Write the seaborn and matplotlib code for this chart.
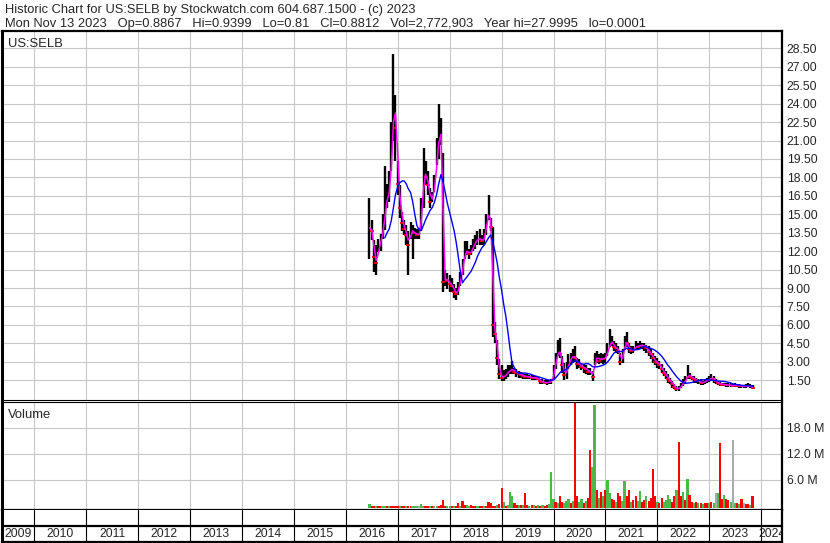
import numpy as np
import pandas as pd
import matplotlib
matplotlib.use("Agg")
import matplotlib.pyplot as plt
import seaborn as sns

# semi-monthly bars, Jun 2016 .. Nov 2023
close = [
    13.9, 13.6, 11.5, 11.0, 12.5, 12.8, 13.8, 15.5, 16.5, 17.0, 20.5, 24.5, 22.0,
    17.5, 15.5, 14.3, 13.8, 13.3, 12.5, 13.8, 13.5, 13.5, 13.3, 13.4, 15.5,
    18.5, 18.0, 17.4, 16.0, 16.5, 17.5, 20.0, 21.5, 21.5, 9.5, 9.8, 9.6,
    9.3, 9.2, 8.7, 8.5, 9.0, 9.8, 10.8, 12.0, 12.0, 11.8, 12.0, 12.5,
    12.8, 13.0, 13.0, 12.8, 13.2, 14.5, 15.3, 14.0, 6.0, 5.3, 3.3, 2.0,
    1.7, 1.8, 2.0, 2.2, 2.3, 2.4, 2.2, 2.1, 2.0, 1.95, 1.85, 1.8,
    1.8, 1.75, 1.7, 1.7, 1.65, 1.6, 1.4, 1.35, 1.3, 1.3, 1.35, 1.4,
    2.2, 3.2, 4.0, 3.6, 2.7, 1.9, 2.3, 3.0, 3.3, 3.5, 3.3, 2.8,
    2.8, 2.6, 2.5, 2.4, 2.2, 2.2, 1.8, 3.2, 3.4, 3.1, 3.3, 3.2,
    3.4, 4.0, 4.6, 4.6, 4.2, 4.1, 3.9, 3.0, 3.5, 4.6, 4.5, 4.0,
    3.9, 4.0, 4.3, 4.2, 4.4, 4.3, 4.3, 4.1, 3.8, 3.6, 3.3, 3.0,
    2.9, 2.7, 2.4, 2.1, 1.9, 1.6, 1.4, 1.2, 0.95, 0.8, 0.8, 1.1,
    1.3, 1.5, 2.0, 1.8, 1.7, 1.6, 1.5, 1.4, 1.3, 1.3, 1.4, 1.5,
    1.6, 1.7, 1.6, 1.4, 1.25, 1.2, 1.15, 1.15, 1.1, 1.1, 1.1, 1.05,
    1.1, 1.05, 1.05, 1.0, 1.0, 1.0, 1.05, 1.0, 0.88,
]
high = [
    16.3, 14.5, 12.9, 12.5, 13.0, 13.4, 15.0, 18.9, 17.5, 18.5, 22.5, 28.0, 24.7,
    19.3, 17.4, 15.2, 14.5, 14.1, 13.6, 14.4, 14.1, 13.9, 13.8, 13.9, 16.3,
    20.4, 19.3, 18.5, 17.1, 16.8, 18.2, 21.2, 24.0, 22.8, 20.0, 10.5, 10.2,
    10.1, 9.8, 9.3, 9.0, 9.5, 10.3, 11.4, 12.8, 12.8, 12.2, 12.5, 13.0,
    13.3, 13.6, 13.8, 13.3, 13.8, 15.0, 16.6, 14.7, 14.0, 6.2, 4.8, 3.2,
    2.7, 2.3, 2.4, 2.7, 2.7, 3.1, 2.5, 2.4, 2.25, 2.2, 2.1, 2.0,
    2.0, 1.9, 1.9, 1.85, 1.85, 1.8, 1.6, 1.6, 1.5, 1.5, 1.5, 1.6,
    2.7, 3.7, 4.8, 4.9, 3.5, 2.9, 3.0, 3.6, 3.7, 4.0, 4.3, 3.3,
    3.2, 2.9, 2.8, 2.7, 2.5, 2.5, 2.25, 3.7, 3.9, 3.6, 3.7, 3.6,
    3.7, 4.5, 5.7, 5.1, 4.7, 4.5, 4.3, 3.7, 4.0, 5.1, 5.4, 4.5,
    4.3, 4.3, 4.7, 4.5, 4.7, 4.5, 4.5, 4.4, 4.3, 4.0, 3.7, 3.5,
    3.3, 3.1, 2.8, 2.5, 2.25, 2.0, 1.7, 1.45, 1.2, 1.0, 1.0, 1.3,
    1.6, 1.85, 2.7, 2.1, 1.85, 1.85, 1.7, 1.6, 1.6, 1.45, 1.6, 1.7,
    1.85, 2.0, 1.85, 1.6, 1.45, 1.35, 1.3, 1.3, 1.25, 1.3, 1.25, 1.2,
    1.25, 1.2, 1.2, 1.15, 1.15, 1.2, 1.3, 1.2, 1.1,
]
low = [
    11.4, 12.9, 10.3, 10.1, 11.9, 12.0, 13.0, 13.7, 15.5, 16.0, 18.5, 21.0, 19.3,
    16.6, 14.7, 13.6, 13.3, 12.5, 10.1, 13.0, 11.4, 13.0, 13.0, 13.0, 13.6,
    15.5, 17.4, 16.6, 15.5, 16.0, 16.8, 19.0, 19.5, 20.6, 8.7, 9.2, 8.9,
    8.7, 8.7, 8.2, 8.0, 8.4, 9.2, 10.1, 11.4, 11.7, 11.4, 11.7, 12.0,
    12.2, 12.5, 12.5, 12.5, 12.5, 13.3, 14.5, 13.6, 5.0, 4.5, 2.7, 1.6,
    1.4, 1.4, 1.6, 1.8, 2.0, 2.0, 2.0, 1.8, 1.7, 1.7, 1.6, 1.6,
    1.6, 1.6, 1.5, 1.55, 1.5, 1.5, 1.2, 1.2, 1.2, 1.15, 1.2, 1.2,
    1.6, 2.4, 3.5, 3.3, 2.1, 1.5, 1.6, 2.4, 2.7, 2.9, 3.0, 2.4,
    2.5, 2.3, 2.1, 2.0, 1.9, 1.9, 1.4, 2.7, 2.9, 2.8, 2.9, 2.8,
    2.9, 3.5, 4.2, 4.3, 3.9, 3.7, 3.6, 2.7, 2.9, 4.0, 4.2, 3.7,
    3.6, 3.7, 4.0, 4.0, 4.0, 4.0, 3.9, 3.7, 3.5, 3.2, 2.9, 2.7,
    2.5, 2.4, 2.1, 1.85, 1.6, 1.3, 1.2, 0.9, 0.75, 0.62, 0.62, 0.9,
    1.0, 1.2, 1.6, 1.6, 1.5, 1.3, 1.25, 1.2, 1.1, 1.1, 1.2, 1.3,
    1.35, 1.4, 1.3, 1.2, 1.1, 1.0, 1.0, 1.0, 0.95, 0.95, 0.95, 0.95,
    0.95, 0.95, 0.9, 0.9, 0.9, 0.9, 0.95, 0.85, 0.75,
]
# biggest daily volume in each half month, millions
volume = [
    0.5, 0.1, 0.0, 0.1, 0.0, 0.0, 0.1, 0.1, 0.0, 0.1, 0.1, 0.1, 0.0,
    0.1, 0.0, 0.1, 0.0, 0.1, 0.0, 0.1, 0.0, 0.0, 0.1, 0.1, 0.4,
    0.1, 0.0, 0.0, 0.0, 0.0, 0.1, 0.1, 0.1, 0.2, 1.4, 0.1, 0.1,
    0.1, 0.0, 0.1, 0.0, 0.7, 0.1, 1.2, 0.2, 0.2, 0.1, 0.2, 0.1,
    0.1, 0.0, 0.1, 0.0, 0.1, 0.1, 1.0, 0.7, 0.1, 0.0, 0.2, 0.5,
    4.2, 1.0, 0.1, 0.3, 3.3, 2.4, 0.6, 0.3, 0.2, 0.2, 0.2, 3.1,
    0.2, 0.1, 0.2, 0.3, 0.1, 0.2, 0.1, 0.3, 0.1, 0.3, 0.4, 7.9,
    1.6, 1.0, 0.6, 2.2, 1.0, 0.7, 1.2, 1.6, 0.6, 1.2, 25.0, 2.4,
    1.0, 1.6, 0.8, 1.2, 1.8, 12.9, 9.1, 23.3, 3.7, 1.8, 3.3, 2.2,
    3.7, 6.0, 3.1, 1.5, 1.4, 1.0, 3.0, 2.4, 1.2, 5.8, 2.2, 3.7,
    1.0, 1.4, 2.2, 1.2, 3.5, 1.0, 1.4, 2.2, 1.2, 1.8, 8.5, 2.2,
    1.0, 0.8, 1.8, 1.0, 1.4, 2.5, 1.6, 1.0, 2.2, 3.8, 14.8, 2.2,
    3.3, 1.4, 6.2, 2.5, 1.0, 0.8, 1.0, 0.6, 0.8, 0.5, 0.6, 0.6,
    0.8, 1.0, 0.7, 2.9, 3.0, 14.6, 1.5, 2.5, 1.6, 1.4, 1.0, 15.2,
    0.6, 0.8, 0.5, 1.6, 0.6, 0.4, 0.4, 0.2, 2.3,
]
# u = up day (green), d = down day (red), n = unchanged (grey)
vol_dir = list(
    "uddudduududdd"
    "duddudduuunuudduduuddddu"
    "udud" "dudd" "uudd" "dudd" "uddd" "ddud"
    "dudu" "uudd" "udud" "dudu" "dudu" "dduu"
    "udud" "duuu" "dudd" "uudu" "dduu" "dudu"
    "duud" "dudd" "uudd" "uddu" "uddu" "dddd"
    "uddu" "uuud" "dudd" "udud" "dudu" "dudd"
    "udun" "uddu" "ddun" "udud" "nddu" "d"
)
years = list(range(2009, 2025))
price_ticks = [1.5 * k for k in range(1, 20)]
vol_ticks = [6, 12, 18]

dates = pd.date_range("2016-06-15", periods=len(close), freq="SMS")
df = pd.DataFrame({"date": dates, "close": close, "high": high, "low": low,
                   "volume": volume, "dir": vol_dir})
df["t"] = df["date"].dt.year + (df["date"].dt.dayofyear - 1) / 365.25
df["ma_short"] = df["close"].rolling(2, min_periods=1).mean()
df["ma_long"] = df["close"].rolling(10, min_periods=8).mean()

sns.set_style("white")
plt.rcParams["font.family"] = ["Liberation Sans", "DejaVu Sans"]

W, H = 830, 543
fig = plt.figure(figsize=(W / 100, H / 100), dpi=100)
fig.patch.set_facecolor("white")


def box(x0, y0, x1, y1):
    return [x0 / W, 1 - y1 / H, (x1 - x0) / W, (y1 - y0) / H]


ax = fig.add_axes(box(2, 31, 782, 400))
axv = fig.add_axes(box(2, 402, 782, 509.5))
axs = fig.add_axes(box(2, 509.5, 782, 542))
xlim = (2009.378, 2024.399)
grid = "#c8c8c8"

for a in (ax, axv, axs):
    a.set_xlim(*xlim)
    a.set_facecolor("white")
    a.set_xticks(years[1:])
    a.set_xticklabels([])
    a.tick_params(axis="x", length=0)
    for s in a.spines.values():
        s.set_color("black")
    a.spines["left"].set_linewidth(2.2)
    a.spines["right"].set_linewidth(1.6)

# price panel
ax.set_ylim(-0.11, 29.91)
ax.grid(True, color=grid, lw=0.8)
ax.set_axisbelow(True)
ax.vlines(df["t"], df["low"], df["high"], color="black", lw=1.7)
down = df["close"] < df["close"].shift(1)
ax.plot(df.loc[down, "t"], df.loc[down, "close"], ls="", marker="_",
        ms=3, mew=1.2, color="#ff0000")
sns.lineplot(data=df, x="t", y="ma_short", ax=ax, color="#ff00ff", lw=1.1,
             legend=False)
sns.lineplot(data=df, x="t", y="ma_long", ax=ax, color="#0000ff", lw=1.0,
             legend=False)
ax.yaxis.tick_right()
ax.set_yticks(price_ticks)
ax.set_yticklabels([f"{v:.2f}" for v in price_ticks])
ax.tick_params(axis="y", length=0, pad=3.5, labelsize=8.8)
ax.set_xlabel("")
ax.set_ylabel("")
ax.spines["top"].set_linewidth(1.6)
ax.spines["bottom"].set_linewidth(0.8)

# volume panel
colors = {"u": "#4cb84c", "d": "#ff0000", "n": "#aaaaaa"}
vbase = -0.46
axv.set_ylim(-0.81, 24.0)
axv.grid(True, color=grid, lw=0.8)
axv.set_axisbelow(True)
axv.bar(df["t"], df["volume"] - vbase, bottom=vbase, width=1.0 / 24,
        color=df["dir"].map(colors), linewidth=0)
axv.yaxis.tick_right()
axv.set_yticks(vol_ticks)
axv.set_yticklabels([f"{v:.1f} M" for v in vol_ticks])
axv.tick_params(axis="y", length=0, pad=3.5, labelsize=8.8)
axv.spines["top"].set_linewidth(0.8)
axv.spines["bottom"].set_linewidth(1.6)

# year strip
axs.set_ylim(0, 1)
axs.set_yticks([])
axs.spines["top"].set_visible(False)
axs.spines["bottom"].set_linewidth(1.6)
for yr in years[1:]:
    axs.axvline(yr, color="black", lw=0.8)
axs.axhline(0.5, color="black", lw=1.6)
for yr in years:
    c = (max(yr, xlim[0]) + min(yr + 1, xlim[1])) / 2
    axs.text(c, 0.25, str(yr), ha="center", va="center", fontsize=8.7,
             clip_on=True)

# texts placed by baseline, pixel coordinates from the top left
def label(x, y, s, size):
    fig.text(x / W, 1 - y / H, s, va="baseline", ha="left", fontsize=size)


label(5, 12.5,
      "Historic Chart for US:SELB by Stockwatch.com 604.687.1500 - (c) 2023",
      9.3)
label(5, 27,
      "Mon Nov 13 2023   Op=0.8867   Hi=0.9399   Lo=0.81   Cl=0.8812   "
      "Vol=2,772,903   Year hi=27.9995   lo=0.0001", 9.3)
label(8, 46.5, "US:SELB", 9.4)
label(8, 418, "Volume", 9.4)

fig.savefig("out.png", dpi=100, facecolor="white")
